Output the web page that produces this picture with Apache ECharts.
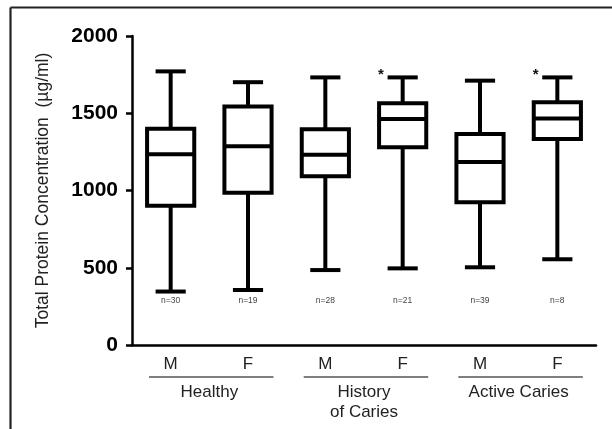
<!DOCTYPE html>
<html>
<head>
<meta charset="utf-8">
<script src="https://cdn.jsdelivr.net/npm/echarts@6/dist/echarts.min.js"></script>
<style>
html,body{margin:0;padding:0;background:#fff;}
#chart{width:612px;height:429px;}
</style>
</head>
<body>
<div id="chart"></div>
<script>
// ---- data ----
const categories = ['M', 'F', 'M', 'F', 'M', 'F'];
const groups = ['Healthy', 'History\nof Caries', 'Active Caries'];
const mins    = [346, 356, 485, 496, 503, 555];
const q1s     = [902, 986, 1092, 1280, 924, 1333];
const medians = [1234, 1286, 1231, 1463, 1184, 1466];
const q3s     = [1399, 1543, 1397, 1565, 1365, 1571];
const maxs    = [1771, 1701, 1732, 1732, 1711, 1732];
const nCounts = [30, 19, 28, 21, 39, 8];
const starred = [false, false, false, true, false, true];
const yTicks = [0, 500, 1000, 1500, 2000];

const FONT = '"Liberation Sans", Arial, Helvetica, sans-serif';
const boxData = categories.map((c, i) => [i, mins[i], q1s[i], medians[i], q3s[i], maxs[i], nCounts[i], starred[i] ? 1 : 0]);
const groupData = groups.map((g, i) => [i * 2, i * 2 + 1]);
const N_LABEL_VALUE = 285;

function renderBox(params, api) {
  const x = api.value(0);
  const band = api.size([1, 0])[0];
  const boxW = band * 0.61;
  const capW = band * 0.39;
  const pMin = api.coord([x, api.value(1)]);
  const pQ1 = api.coord([x, api.value(2)]);
  const pMed = api.coord([x, api.value(3)]);
  const pQ3 = api.coord([x, api.value(4)]);
  const pMax = api.coord([x, api.value(5)]);
  const cx = pMed[0];
  const lw = 4;
  const st = {stroke: '#000', lineWidth: lw, fill: null};
  const children = [
    {type: 'line', shape: {x1: cx, y1: pQ3[1], x2: cx, y2: pMax[1]}, style: st},
    {type: 'line', shape: {x1: cx - capW / 2, y1: pMax[1], x2: cx + capW / 2, y2: pMax[1]}, style: st},
    {type: 'line', shape: {x1: cx, y1: pQ1[1], x2: cx, y2: pMin[1]}, style: st},
    {type: 'line', shape: {x1: cx - capW / 2, y1: pMin[1], x2: cx + capW / 2, y2: pMin[1]}, style: st},
    {type: 'rect', shape: {x: cx - boxW / 2, y: pQ3[1], width: boxW, height: pQ1[1] - pQ3[1]},
      style: {stroke: '#000', lineWidth: lw, fill: '#fff'}},
    {type: 'line', shape: {x1: cx - boxW / 2, y1: pMed[1], x2: cx + boxW / 2, y2: pMed[1]}, style: st}
  ];
  const pN = api.coord([x, N_LABEL_VALUE]);
  children.push({type: 'text', style: {text: 'n=' + api.value(6), x: cx, y: pN[1],
    align: 'center', verticalAlign: 'middle', fontSize: 8.5, fontFamily: FONT, fill: '#444'}});
  if (api.value(7)) {
    children.push({type: 'text', style: {text: '*', x: cx - band * 0.28, y: pMax[1] - 3,
      align: 'center', verticalAlign: 'middle', fontSize: 15, fontWeight: 'bold', fontFamily: FONT, fill: '#111'}});
  }
  return {type: 'group', children: children};
}

function renderGroupLine(params, api) {
  const band = api.size([1, 0])[0];
  const p0 = api.coord([api.value(0), 0]);
  const p1 = api.coord([api.value(1), 0]);
  const y = p0[1] + 32;
  return {type: 'line', shape: {x1: p0[0] - band * 0.28, y1: y, x2: p1[0] + band * 0.33, y2: y},
    style: {stroke: '#555', lineWidth: 1.5}};
}

const chart = echarts.init(document.getElementById('chart'), null, {renderer: 'canvas'});
chart.setOption({
  animation: false,
  backgroundColor: '#fff',
  grid: {left: 132, top: 36, right: 16, bottom: 84, containLabel: false},
  xAxis: [{
    type: 'category', data: categories, boundaryGap: true,
    axisLine: {lineStyle: {color: '#000', width: 2.5}},
    axisTick: {alignWithLabel: true, length: 6, lineStyle: {color: '#000', width: 2.5}},
    axisLabel: {fontSize: 17, color: '#222', fontFamily: FONT, margin: 11}
  }, {
    type: 'category', data: groups, position: 'bottom', boundaryGap: true,
    axisLine: {show: false}, axisTick: {show: false},
    axisLabel: {fontSize: 17, color: '#222', fontFamily: FONT, margin: 37, lineHeight: 20}
  }],
  yAxis: {
    type: 'value', min: yTicks[0], max: yTicks[yTicks.length - 1], interval: 500,
    splitLine: {show: false},
    axisLine: {show: true, lineStyle: {color: '#000', width: 2.5}},
    axisTick: {show: true, length: 6, lineStyle: {color: '#000', width: 2.5}},
    axisLabel: {fontSize: 21, fontWeight: 'bold', color: '#000', fontFamily: FONT, margin: 14,
      formatter: v => String(v)},
    name: 'Total Protein Concentration  (\u00b5g/ml)',
    nameLocation: 'middle', nameGap: 80,
    nameTextStyle: {fontSize: 17.5, color: '#222', fontFamily: FONT}
  },
  series: [{
    type: 'custom', xAxisIndex: 0, clip: false,
    renderItem: renderBox,
    encode: {x: 0, y: [1, 2, 3, 4, 5]},
    data: boxData
  }, {
    type: 'custom', xAxisIndex: 0, clip: false,
    renderItem: renderGroupLine,
    encode: {x: [0, 1]},
    data: groupData
  }],
  graphic: [
    {type: 'line', shape: {x1: 10.5, y1: 7.5, x2: 612, y2: 7.5}, style: {stroke: '#222', lineWidth: 2.2}},
    {type: 'line', shape: {x1: 10.5, y1: 7.5, x2: 10.5, y2: 429}, style: {stroke: '#222', lineWidth: 2.2}}
  ]
});
</script>
</body>
</html>
